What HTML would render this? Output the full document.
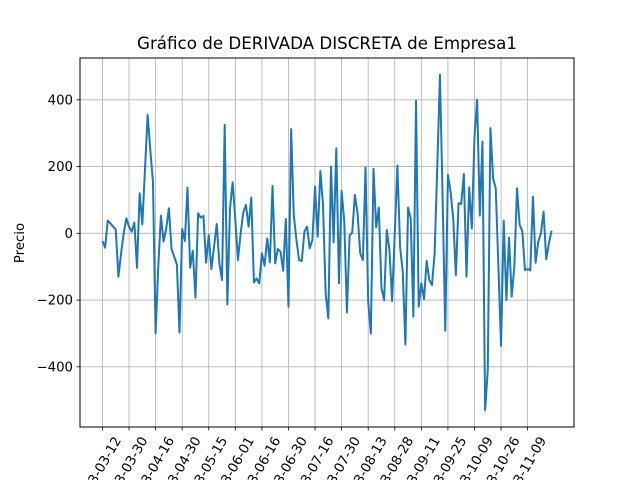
<!DOCTYPE html>
<html><head><meta charset="utf-8"><style>
html,body{margin:0;background:#fff;width:640px;height:480px;overflow:hidden;}
svg{display:block;overflow:hidden;font-family:"DejaVu Sans","Liberation Sans",sans-serif;}
</style></head><body>
<svg id="chart" width="640" height="480" xmlns="http://www.w3.org/2000/svg">
<rect width="640" height="480" fill="#fff"/>
<text x="327" y="49" font-size="16.7" text-anchor="middle">Gráfico de DERIVADA DISCRETA de Empresa1</text>
<text transform="translate(24,243) rotate(-90)" font-size="13.3" text-anchor="middle">Precio</text>
<g id="grid"></g>
<g id="yticks"></g>
<g id="xticks"></g>
<path id="line" fill="none" stroke="#1f77b4" stroke-width="2" stroke-linejoin="round"/>
<rect x="80" y="58" width="494" height="369" fill="none" stroke="#000" stroke-width="1"/>
</svg>
<script>
const values = [-23,-43,38,30,20,12,-130,-60,0,45,20,5,32,-103,120,27,190,355,250,155,
-300,-100,53,-25,15,75,-47,-70,-93,-297,13,-23,137,-103,-52,-193,60,47,52,-88,
-5,-107,-40,28,-90,-140,325,-213,75,153,40,-80,0,63,85,20,107,-147,-135,-150,
-60,-97,-15,-87,142,-90,-47,-55,-112,43,-220,312,55,-20,-80,-83,5,20,-45,-20,
140,-10,187,85,-180,-255,200,-27,255,-150,127,35,-237,-7,3,115,60,-60,-80,197,
-205,-300,193,18,77,-165,-200,10,-50,-203,0,203,-40,-115,-333,77,45,-250,397,-220,
-150,-197,-83,-140,-155,-60,200,475,110,-292,175,125,45,-125,90,88,178,-130,138,15,
290,400,53,275,-530,-410,315,165,135,-100,-337,38,-200,-13,-190,-100,135,25,7,-110,
-107,-111,110,-88,-25,0,65,-78,-30,8];
const tickLabels = ["2023-03-12","2023-03-30","2023-04-16","2023-04-30","2023-05-15","2023-06-01","2023-06-16","2023-06-30","2023-07-16","2023-07-30","2023-08-13","2023-08-28","2023-09-11","2023-09-25","2023-10-09","2023-10-26","2023-11-09"];
const yTicks = [-400,-200,0,200,400];
const tickEvery = 10;

const L=80,R=574,T=58,B=427;
const n=values.length;
const xMarg=(n-1)*0.05;
const x=i=>L+(i+xMarg)/((n-1)+2*xMarg)*(R-L);
const vmin=Math.min(...values),vmax=Math.max(...values);
const ym=(vmax-vmin)*0.05;
const y0=vmin-ym,y1=vmax+ym;
const y=v=>B-(v-y0)/(y1-y0)*(B-T);
const NS="http://www.w3.org/2000/svg";
function mk(tag,attrs,parent,txt){const e=document.createElementNS(NS,tag);for(const k in attrs)e.setAttribute(k,attrs[k]);if(txt!==undefined)e.textContent=txt;parent.appendChild(e);return e;}
const grid=document.getElementById('grid'),yt=document.getElementById('yticks'),xt=document.getElementById('xticks');
yTicks.forEach(v=>{
 const py=y(v);
 const g=mk('line',{x1:L,x2:R,y1:py,y2:py,stroke:'#b0b0b0','stroke-width':0.8},grid);
 
 
 const t=mk('line',{x1:L-3.5,x2:L,y1:py,y2:py,stroke:'#000','stroke-width':0.8},yt);
 
 
 const lb=mk('text',{x:L-7,y:py+4.6,'font-size':13.3,'text-anchor':'end'},yt,String(v).replace('-','\u2212'));
 
 
});
tickLabels.forEach((s,k)=>{
 const px=x(k*tickEvery);
 const g=mk('line',{x1:px,x2:px,y1:T,y2:B,stroke:'#b0b0b0','stroke-width':0.8},grid);
 
 
 const t=mk('line',{x1:px,x2:px,y1:B,y2:B+3.5,stroke:'#000','stroke-width':0.8},xt);
 
 
 const lb=mk('text',{transform:`translate(${px+19},${B+13}) rotate(-60)`,'font-size':13.3,'text-anchor':'end'},xt,s);
 
 
});
document.getElementById('line').setAttribute('d',values.map((v,i)=>(i?'L':'M')+x(i).toFixed(2)+','+y(v).toFixed(2)).join(''));
</script>
</body></html>
